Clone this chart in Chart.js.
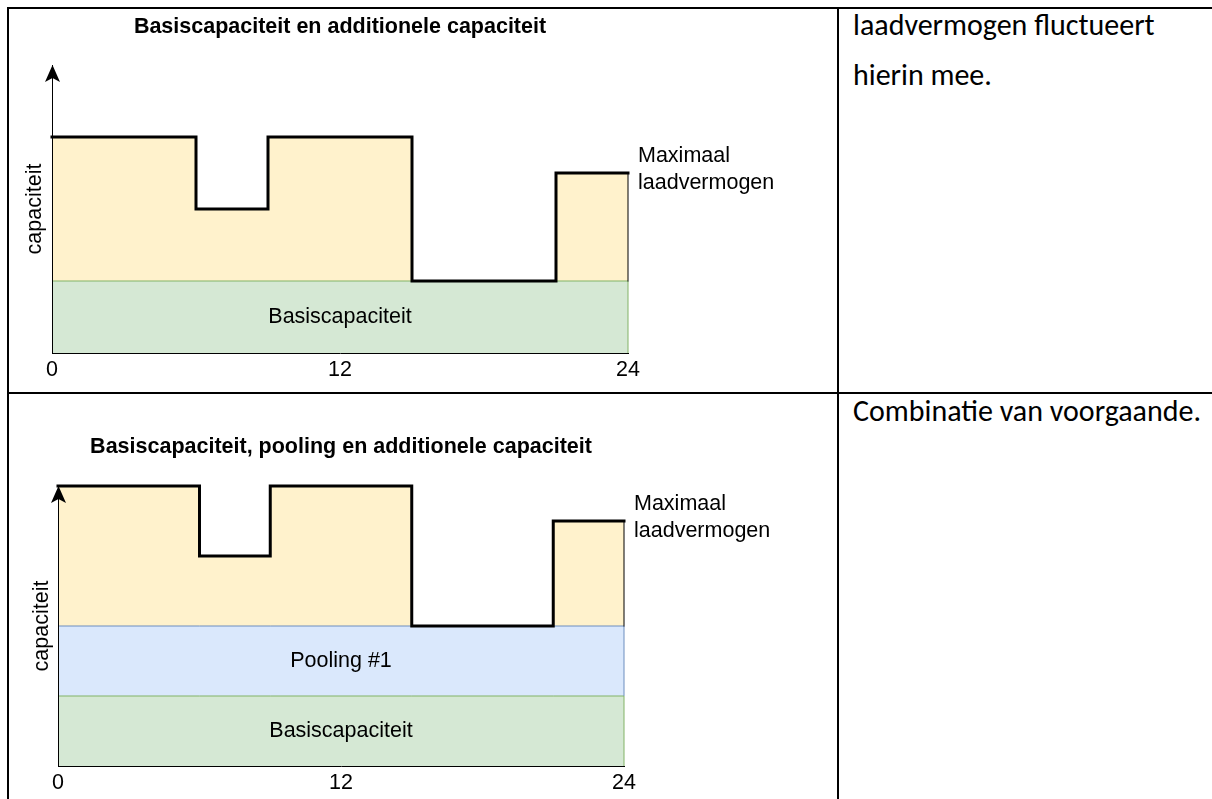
<!DOCTYPE html>
<html>
<head>
<meta charset="utf-8">
<title>Basiscapaciteit en additionele capaciteit</title>
<script src="https://cdn.jsdelivr.net/npm/chart.js"></script>
<style>
  body { margin: 0; background: #fff; width: 1212px; height: 799px; overflow: hidden; position: relative; }
  .lijn { position: absolute; background: #000; }
  .cel { position: absolute; }
  .tekst { position: absolute; left: 853px; font-family: Carlito, Lato, sans-serif; font-size: 30px; line-height: 50px; color: #000; white-space: nowrap; }
</style>
</head>
<body>
  <!-- tabelranden -->
  <div class="lijn" style="left:7px;top:7px;width:1205px;height:2px"></div>
  <div class="lijn" style="left:7px;top:7px;width:2px;height:792px"></div>
  <div class="lijn" style="left:837px;top:7px;width:2px;height:792px"></div>
  <div class="lijn" style="left:7px;top:392px;width:1205px;height:2px"></div>

  <div class="cel" style="left:9px;top:9px;width:828px;height:383px"><canvas id="grafiek1"></canvas></div>
  <div class="cel" style="left:9px;top:394px;width:828px;height:405px"><canvas id="grafiek2"></canvas></div>

  <div class="tekst" style="top:0px">laadvermogen fluctueert<br>hierin mee.</div>
  <div class="tekst" style="top:386px">Combinatie van voorgaande.</div>

<script>
// uren van de dag waarop het niveau verandert
const uren = [0, 6, 9, 15, 21, 24];
const xTicks = [0, 12, 24];
const yMax = 8;

// bovenste grafiek
const basis1 = [2, 2, 2, 2, 2, 2];
const maxLaad1 = [6, 4, 6, 2, 5, 5];

// onderste grafiek
const basis2 = [2, 2, 2, 2, 2, 2];
const pooling2 = [4, 4, 4, 4, 4, 4];
const maxLaad2 = [8, 6, 8, 4, 7, 7];

const lettergrootte = 21.5;
Chart.defaults.font.family = "'Liberation Sans', Arial, sans-serif";
Chart.defaults.font.size = lettergrootte;
Chart.defaults.color = '#000';

// trappunten, plus een sluitpunt op het laatste uur naar het niveau eronder
function stap(waarden, onder) {
  const pts = uren.map((u, i) => ({ x: u, y: waarden[i] }));
  pts.push({ x: uren[uren.length - 1], y: onder });
  return pts;
}

function band(label, waarden, onder, fill, kleur, rand, dik) {
  return {
    label: label,
    data: stap(waarden, onder),
    stepped: true,
    fill: fill,
    backgroundColor: kleur,
    borderColor: rand,
    borderWidth: dik,
    borderJoinStyle: 'miter',
    borderCapStyle: dik > 1 ? 'square' : 'butt',
    pointRadius: 0,
    clip: false,
    segment: {
      borderWidth: c => c.p0DataIndex === uren.length - 1 ? 1 : undefined
    }
  };
}

function opties(titel, p) {
  return {
    responsive: true,
    maintainAspectRatio: false,
    animation: false,
    events: [],
    layout: { padding: { left: 0, top: 0, bottom: 0, right: p.right } },
    plugins: {
      legend: { display: false },
      tooltip: { enabled: false },
      filler: { drawTime: 'beforeDatasetsDraw' },
      title: {
        display: true, text: titel, fullSize: false, color: '#000',
        font: { weight: 'bold', size: lettergrootte },
        padding: { top: p.titelBoven, bottom: p.titelOnder }
      }
    },
    scales: {
      x: {
        type: 'linear', min: 0, max: 24,
        grid: { display: false, drawTicks: false },
        border: { display: true, color: '#000', width: 1, z: 1 },
        ticks: { padding: p.tick, color: '#000', font: { size: lettergrootte } },
        afterBuildTicks: s => { s.ticks = xTicks.map(v => ({ value: v })); },
        afterFit: s => { s.height = p.xHoogte; }
      },
      y: {
        min: 0, max: yMax,
        grid: { display: false, drawTicks: false },
        border: { display: true, color: '#000', width: 1, z: 1 },
        ticks: { display: false },
        title: { display: true, text: 'capaciteit', color: '#000', font: { size: lettergrootte }, padding: { top: p.yTitel, bottom: 0 } },
        afterFit: s => { s.width = p.yBreedte; }
      }
    }
  };
}

// teksten in de banden, zijlabel en pijlpunt op de y-as
function aantekeningen(banden, zijWaarde) {
  return {
    id: 'aantekeningen',
    afterDatasetsDraw(chart) {
      const { ctx, chartArea: a, scales: { x, y } } = chart;
      ctx.save();
      ctx.fillStyle = '#000';
      ctx.font = lettergrootte + "px 'Liberation Sans', Arial, sans-serif";
      ctx.textAlign = 'center';
      ctx.textBaseline = 'middle';
      const midden = x.getPixelForValue((x.min + x.max) / 2);
      banden.forEach(b => ctx.fillText(b.tekst, midden, y.getPixelForValue((b.van + b.tot) / 2)));

      ctx.textAlign = 'left';
      const ym = y.getPixelForValue(zijWaarde) - 3;
      ctx.fillText('Maximaal', a.right + 10, ym - 13.5);
      ctx.fillText('laadvermogen', a.right + 10, ym + 13.5);

      const px = a.left + 0.5, py = a.top;
      ctx.beginPath();
      ctx.moveTo(px, py);
      ctx.lineTo(px + 7.5, py + 17);
      ctx.lineTo(px, py + 13);
      ctx.lineTo(px - 7.5, py + 17);
      ctx.closePath();
      ctx.fill();
      ctx.restore();
    }
  };
}

new Chart(document.getElementById('grafiek1'), {
  type: 'line',
  data: {
    datasets: [
      band('Maximaal laadvermogen', maxLaad1, basis1[basis1.length - 1], '+1', '#fff2cc', '#000', 3),
      band('Basiscapaciteit', basis1, 0, 'origin', '#d5e8d4', '#82b366', 1)
    ]
  },
  options: opties('Basiscapaciteit en additionele capaciteit', {
    right: 209, titelBoven: 5.6, titelOnder: 24.6, tick: 4.6, xHoogte: 39, yTitel: 13.1, yBreedte: 43
  }),
  plugins: [aantekeningen([{ tekst: 'Basiscapaciteit', van: 0, tot: basis1[0] }], maxLaad1[maxLaad1.length - 1])]
});

new Chart(document.getElementById('grafiek2'), {
  type: 'line',
  data: {
    datasets: [
      band('Maximaal laadvermogen', maxLaad2, pooling2[pooling2.length - 1], '+1', '#fff2cc', '#000', 3),
      band('Pooling #1', pooling2, basis2[basis2.length - 1], '+1', '#dae8fc', '#6c8ebf', 1),
      band('Basiscapaciteit', basis2, 0, 'origin', '#d5e8d4', '#82b366', 1)
    ]
  },
  options: opties('Basiscapaciteit, pooling en additionele capaciteit', {
    right: 213, titelBoven: 39.8, titelOnder: 26.4, tick: 4.1, xHoogte: 33, yTitel: 20.1, yBreedte: 49
  }),
  plugins: [aantekeningen([
    { tekst: 'Basiscapaciteit', van: 0, tot: basis2[0] },
    { tekst: 'Pooling #1', van: basis2[0], tot: pooling2[0] }
  ], maxLaad2[maxLaad2.length - 1])]
});
</script>
</body>
</html>
